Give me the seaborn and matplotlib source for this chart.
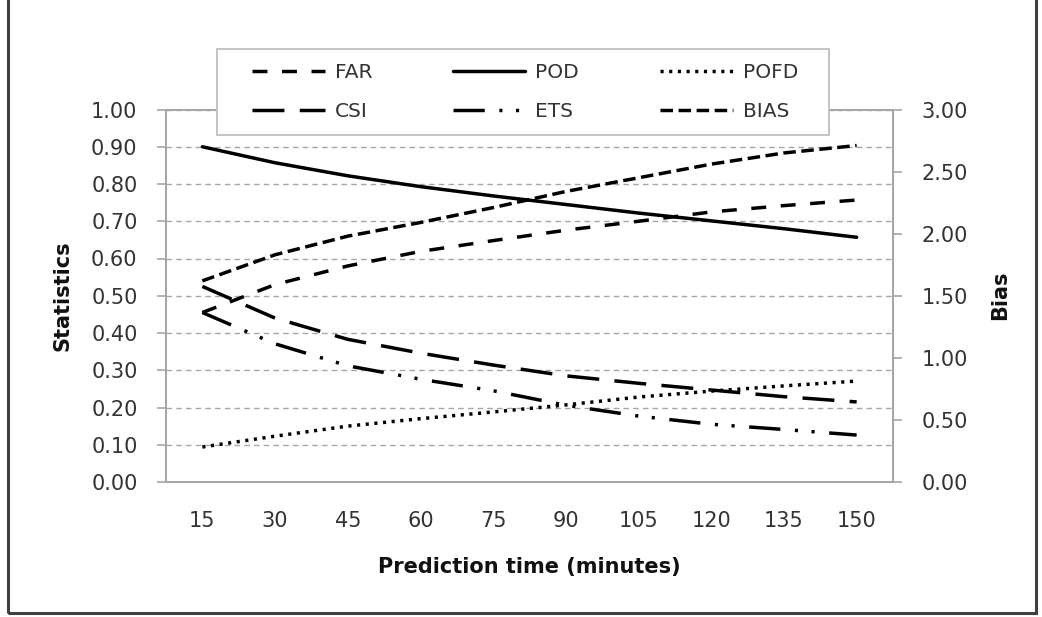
import numpy as np
import pandas as pd
import matplotlib
matplotlib.use("Agg")
import matplotlib.pyplot as plt
import seaborn as sns
from matplotlib.patches import Rectangle
from matplotlib.ticker import FixedLocator, FormatStrFormatter

# ---------------- data ----------------
minutes = ["15", "30", "45", "60", "75", "90", "105", "120", "135", "150"]
far  = [0.455, 0.530, 0.580, 0.619, 0.648, 0.676, 0.700, 0.725, 0.742, 0.757]
pod  = [0.900, 0.857, 0.822, 0.793, 0.768, 0.745, 0.722, 0.701, 0.680, 0.657]
pofd = [0.094, 0.123, 0.150, 0.170, 0.188, 0.207, 0.228, 0.244, 0.258, 0.271]
csi  = [0.525, 0.440, 0.383, 0.346, 0.314, 0.285, 0.265, 0.247, 0.229, 0.215]
ets  = [0.455, 0.371, 0.312, 0.276, 0.245, 0.206, 0.177, 0.155, 0.141, 0.126]
bias = [1.62, 1.83, 1.98, 2.09, 2.21, 2.34, 2.45, 2.56, 2.65, 2.71]
left_ticks = [0.0, 0.1, 0.2, 0.3, 0.4, 0.5, 0.6, 0.7, 0.8, 0.9, 1.0]
right_ticks = [0.0, 0.5, 1.0, 1.5, 2.0, 2.5, 3.0]

# ---------------- style ----------------
sns.set_theme(style="white")
plt.rcParams['font.family'] = ['DejaVu Sans']

W, H = 1042, 617
def fx(px): return px / W
def fy(py): return 1 - py / H

GRAY = '#a6a6a6'
TXT = '#333333'
LW = 2.5

fig = plt.figure(figsize=(W / 100, H / 100), dpi=100)
fig.patch.set_facecolor('white')
ax = fig.add_axes([fx(166), fy(482), fx(893) - fx(166), fy(109.5) - fy(482)])
ax2 = ax.twinx()
ax2.patch.set_visible(False)

styles = {
    'FAR':  (0, (4.3, 4.2)),
    'POD':  '-',
    'POFD': (0, (0.9, 1.6)),
    'CSI':  (0, (9.2, 4.4)),
    'ETS':  (0, (9.0, 4.2, 0.9, 3.9, 0.9, 4.2)),
    'BIAS': (0, (3.6, 1.6)),
}

handles = {}
for name, vals in [('POFD', pofd), ('ETS', ets), ('CSI', csi), ('FAR', far), ('POD', pod)]:
    sns.lineplot(x=minutes, y=vals, ax=ax, color='black', lw=LW,
                 linestyle=styles[name], sort=False, legend=False, label=name)
    handles[name] = ax.get_lines()[-1]
sns.lineplot(x=minutes, y=bias, ax=ax2, color='black', lw=LW,
             linestyle=styles['BIAS'], sort=False, legend=False, label='BIAS')
handles['BIAS'] = ax2.get_lines()[-1]

for a in (ax, ax2):
    if a.get_legend() is not None:
        a.get_legend().remove()

ax.set_xlim(-0.5, len(minutes) - 0.5)
ax.set_ylim(0, 1)
ax2.set_ylim(0, 3)

ax.yaxis.set_major_locator(FixedLocator(left_ticks))
ax.yaxis.set_major_formatter(FormatStrFormatter('%.2f'))
ax2.yaxis.set_major_locator(FixedLocator(right_ticks))
ax2.yaxis.set_major_formatter(FormatStrFormatter('%.2f'))

ax.yaxis.grid(True, color=GRAY, linestyle=(0, (4, 3)), linewidth=1.0)
ax.xaxis.grid(False)
ax2.grid(False)
ax.set_axisbelow(True)

for a in (ax, ax2):
    for s in a.spines.values():
        s.set_color(GRAY)
        s.set_linewidth(1.3)
        s.set_visible(True)

ax.tick_params(axis='y', left=True, right=False, direction='out', length=6.5, width=1.2,
               color=GRAY, pad=14, labelsize=15, labelcolor=TXT)
ax2.tick_params(axis='y', right=True, left=False, direction='out', length=6.5, width=1.2,
                color=GRAY, pad=14, labelsize=15, labelcolor=TXT)
ax.tick_params(axis='x', bottom=False, length=0, pad=21, labelsize=15, labelcolor=TXT)
ax2.tick_params(axis='x', bottom=False, top=False, length=0)

ax.set_xlabel("Prediction time (minutes)", fontsize=15, fontweight='bold', color='#111111')
ax.xaxis.set_label_coords(0.5, (482 - 567) / 372.5)
ax.xaxis.label.set_va('center')
ax.set_ylabel("Statistics", fontsize=15, fontweight='bold', color='#111111')
ax.yaxis.set_label_coords((63 - 166) / 727, 0.5)
ax.yaxis.label.set_va('center')
ax2.set_ylabel("Bias", fontsize=15, fontweight='bold', color='#111111', rotation=90)
ax2.yaxis.set_label_coords((1000 - 166) / 727, 0.5)
ax2.yaxis.label.set_va('center')

# legend box and legend
box = Rectangle((fx(217), fy(135)), fx(829) - fx(217), fy(49) - fy(135),
                transform=fig.transFigure, facecolor='white', edgecolor='#bfbfbf',
                lw=1.3, zorder=5)
fig.add_artist(box)
order = ['FAR', 'CSI', 'POD', 'ETS', 'POFD', 'BIAS']
leg = fig.legend([handles[k] for k in order], order, ncol=3, mode='expand',
                 bbox_to_anchor=(fx(252), fy(135), fx(798) - fx(252), fy(49) - fy(135)),
                 bbox_transform=fig.transFigure, loc='center', frameon=False,
                 fontsize=14.5, handlelength=3.6, handletextpad=0.5, labelspacing=0.95,
                 borderpad=0, borderaxespad=0)
for t in leg.get_texts():
    t.set_color(TXT)
leg.set_zorder(6)

# outer frame
frame = Rectangle((fx(8), fy(613)), fx(1036) - fx(8), 1.5, transform=fig.transFigure,
                  fill=False, edgecolor='#3f3f3f', lw=2.2, zorder=10, clip_on=False)
fig.add_artist(frame)

fig.savefig("out.png", dpi=100, facecolor='white')
